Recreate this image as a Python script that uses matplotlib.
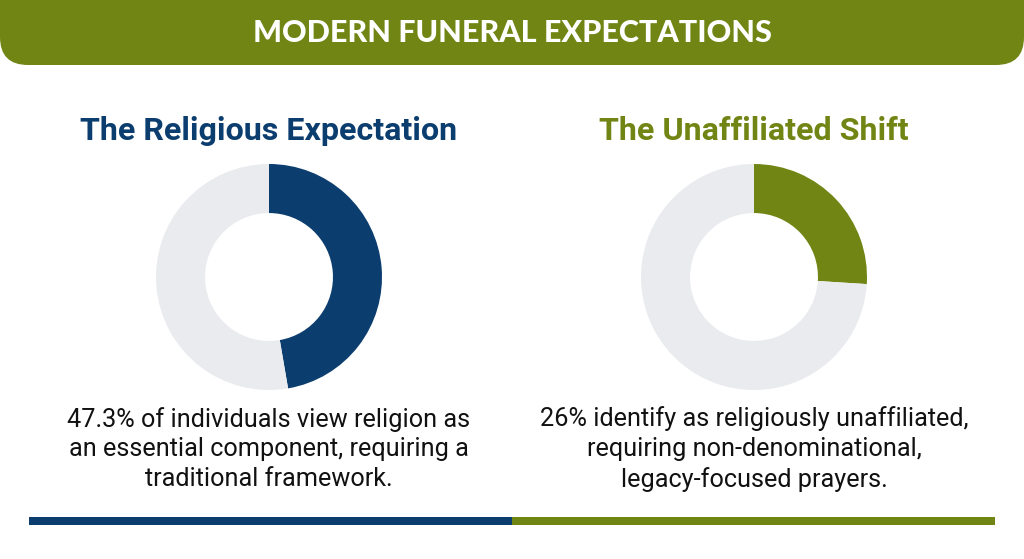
import matplotlib
matplotlib.use("Agg")
import matplotlib.pyplot as plt
from matplotlib.patches import FancyBboxPatch, Rectangle

title = "MODERN FUNERAL EXPECTATIONS"
panel_titles = ["The Religious Expectation", "The Unaffiliated Shift"]
shares = [47.3, 26.0]
captions = [
    "47.3% of individuals view religion as\nan essential component, requiring a\ntraditional framework.",
    "26% identify as religiously unaffiliated,\nrequiring non-denominational,\nlegacy-focused prayers.",
]

BLUE = "#0b3d6e"
OLIVE = "#718514"
GRAY = "#e9ebee"
W, H = 1024, 559

fig = plt.figure(figsize=(W / 100, H / 100), dpi=100)
bg = fig.add_axes([0, 0, 1, 1])
bg.set_xlim(0, W)
bg.set_ylim(H, 0)
bg.axis("off")

# header band with rounded bottom corners
bg.add_patch(FancyBboxPatch((0, -40), W, 105, boxstyle="round,pad=0,rounding_size=28",
                            fc=OLIVE, ec="none"))
bg.text(W / 2, 33, title, color="white", fontsize=22, fontweight="black",
        family="Lato", ha="center", va="center")

colors = [BLUE, OLIVE]
centers = [269, 754]
R = 113
for i in range(2):
    cx = centers[i]
    bg.text(cx, 131, panel_titles[i], color=colors[i], fontsize=23.2, fontweight="bold",
            family="Roboto", ha="center", va="center")
    ax = fig.add_axes([(cx - R) / W, (H - 277 - R) / H, 2 * R / W, 2 * R / H])
    ax.pie([shares[i], 100 - shares[i]], colors=[colors[i], GRAY], startangle=90,
           counterclock=False, radius=1, wedgeprops=dict(width=0.434, edgecolor="none"))
    ax.set_xlim(-1, 1)
    ax.set_ylim(-1, 1)
    ax.set_aspect("equal")
    bg.text(cx, 449, captions[i], color="#111111", fontsize=18.2, family="Roboto",
            ha="center", va="center", linespacing=1.3)

bg.add_patch(Rectangle((29, 517), 483, 8, fc=BLUE, ec="none"))
bg.add_patch(Rectangle((512, 517), 483, 8, fc=OLIVE, ec="none"))

fig.savefig("out.png", dpi=100, facecolor="white")
